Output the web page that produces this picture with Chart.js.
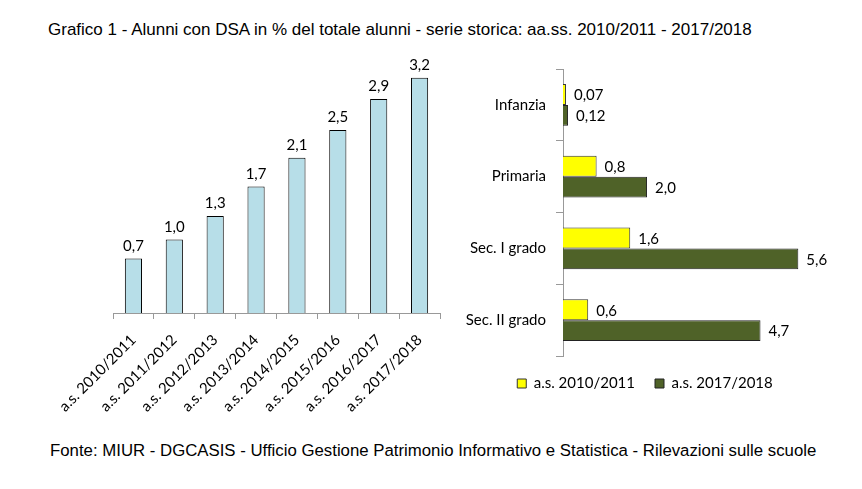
<!DOCTYPE html>
<html>
<head>
<meta charset="utf-8">
<script src="https://cdn.jsdelivr.net/npm/chart.js@4.4.0/dist/chart.umd.min.js"></script>
<style>
    body { margin: 0; background: #fff; width: 862px; height: 489px; position: relative; overflow: hidden; font-family: "Liberation Sans", Arial, sans-serif; }
    #title { position: absolute; left: 48px; top: 20px; font-size: 17px; line-height: 20px; color: #000; white-space: nowrap; }
    #footer { position: absolute; left: 50px; top: 441px; font-size: 16.8px; line-height: 20px; color: #000; white-space: nowrap; }
    #trendChart { position: absolute; left: 0; top: 0; }
    #levelChart { position: absolute; left: 440px; top: 50px; }
</style>
</head>
<body>
<div id="title">Grafico 1 - Alunni con DSA in % del totale alunni - serie storica: aa.ss. 2010/2011 - 2017/2018</div>
<canvas id="trendChart" width="460" height="440"></canvas>
<canvas id="levelChart" width="410" height="351"></canvas>
<div id="footer">Fonte: MIUR - DGCASIS - Ufficio Gestione Patrimonio Informativo e Statistica - Rilevazioni sulle scuole</div>
<script>
// Left chart: historical series
const years = ['a.s. 2010/2011', 'a.s. 2011/2012', 'a.s. 2012/2013', 'a.s. 2013/2014',
               'a.s. 2014/2015', 'a.s. 2015/2016', 'a.s. 2016/2017', 'a.s. 2017/2018'];
const dsaShare = [0.74, 1.0, 1.32, 1.72, 2.11, 2.49, 2.91, 3.2];

// Right chart: by school level
const levels = ['Infanzia', 'Primaria', 'Sec. I grado', 'Sec. II grado'];
const share2010 = [0.07, 0.8, 1.6, 0.6];
const share2017 = [0.12, 2.0, 5.6, 4.7];

const FONT = 'Lato';

// Italian number format: 2 decimals for very small values
function fmt(v) {
    return (v < 0.5 ? v.toFixed(2) : v.toFixed(1)).replace('.', ',');
}

// Draws the value next to each bar
const valueLabels = {
    id: 'valueLabels',
    afterDatasetsDraw(chart) {
        const ctx = chart.ctx;
        const horizontal = chart.options.indexAxis === 'y';
        ctx.save();
        ctx.font = '15px ' + FONT;
        ctx.fillStyle = '#000';
        chart.data.datasets.forEach((ds, i) => {
            chart.getDatasetMeta(i).data.forEach((bar, j) => {
                const txt = fmt(ds.data[j]);
                if (horizontal) {
                    ctx.textAlign = 'left';
                    ctx.textBaseline = 'middle';
                    ctx.fillText(txt, bar.x + 8, bar.y + 1);
                } else {
                    ctx.textAlign = 'center';
                    ctx.textBaseline = 'bottom';
                    ctx.fillText(txt, bar.x, bar.y - 5);
                }
            });
        });
        ctx.restore();
    }
};

new Chart(document.getElementById('trendChart'), {
    type: 'bar',
    data: {
        labels: years,
        datasets: [{
            data: dsaShare,
            backgroundColor: '#B7DEE8',
            borderColor: '#000',
            borderWidth: 1,
            barPercentage: 0.42,
            categoryPercentage: 1
        }]
    },
    options: {
        responsive: false,
        animation: false,
        layout: { padding: { left: 113, right: 20, top: 63, bottom: 0 } },
        plugins: { legend: { display: false }, tooltip: { enabled: false } },
        scales: {
            x: {
                grid: { drawOnChartArea: false, drawTicks: true, tickLength: 6, color: '#999', offset: true },
                border: { display: true, color: '#999' },
                ticks: { minRotation: 45, maxRotation: 45, padding: 12, color: '#000', font: { family: FONT, size: 15 } },
                afterFit(scale) { scale.height = 127; }
            },
            y: { display: false, min: 0, max: 3.4 }
        }
    },
    plugins: [valueLabels]
});

new Chart(document.getElementById('levelChart'), {
    type: 'bar',
    data: {
        labels: levels,
        datasets: [{
            label: 'a.s. 2010/2011',
            data: share2010,
            backgroundColor: '#FFFF00',
            borderColor: '#333',
            borderWidth: 1
        }, {
            label: 'a.s. 2017/2018',
            data: share2017,
            backgroundColor: '#4F6228',
            borderColor: '#222',
            borderWidth: 1
        }]
    },
    options: {
        indexAxis: 'y',
        responsive: false,
        animation: false,
        datasets: { bar: { barPercentage: 1, categoryPercentage: 0.58 } },
        layout: { padding: { left: 0, right: 0, top: 19, bottom: 0 } },
        plugins: {
            tooltip: { enabled: false },
            legend: {
                position: 'bottom',
                labels: { boxWidth: 9, boxHeight: 9, padding: 20, color: '#000', font: { family: FONT, size: 15 } }
            }
        },
        scales: {
            x: { display: false, min: 0, max: 6.83 },
            y: {
                grid: { drawOnChartArea: false, drawTicks: true, tickLength: 7, color: '#999', offset: true },
                border: { display: true, color: '#999' },
                ticks: { padding: 10, color: '#000', font: { family: FONT, size: 15 } },
                afterFit(scale) { scale.width = 123; }
            }
        }
    },
    plugins: [valueLabels]
});
</script>
</body>
</html>
